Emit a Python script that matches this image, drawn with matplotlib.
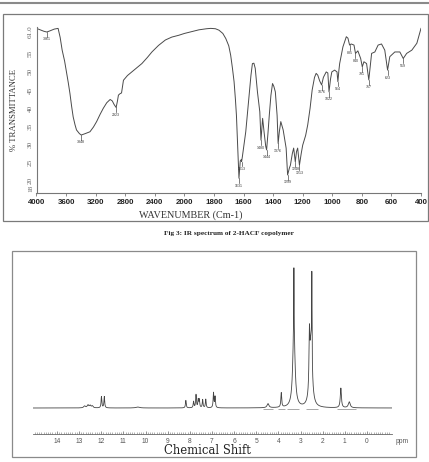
import numpy as np
import matplotlib.pyplot as plt
from matplotlib.lines import Line2D
from matplotlib.patches import Rectangle

# ---------------------------
# IR spectrum
# ---------------------------
ir_wn = [4000, 3950, 3900, 3861, 3820, 3760, 3708, 3680, 3653, 3620, 3595, 3570,
         3548, 3525, 3504, 3480, 3459, 3420, 3395, 3340, 3277, 3230, 3187, 3140,
         3096, 3050, 3004, 2975, 2950, 2923, 2905, 2892, 2870, 2850, 2824, 2770,
         2711, 2640, 2575, 2500, 2439, 2350, 2257, 2170, 2076, 2000, 1970, 1902,
         1850, 1822, 1790, 1766, 1740, 1720, 1700, 1687, 1675, 1664, 1655, 1648,
         1640, 1631, 1622, 1616, 1613, 1608, 1585, 1562, 1550, 1540, 1530, 1521,
         1506, 1490, 1482, 1471, 1460, 1450, 1444, 1435, 1426, 1415, 1404, 1395,
         1385, 1373, 1366, 1358, 1348, 1332, 1312, 1302, 1290, 1283, 1270, 1261,
         1250, 1242, 1234, 1222, 1210, 1200, 1180, 1166, 1150, 1136, 1120, 1109,
         1098, 1085, 1072, 1060, 1041, 1030, 1022, 1012, 1003, 984, 968, 962,
         955, 950, 928, 905, 894, 883, 872, 853, 843, 827, 808, 797,
         786, 768, 753, 734, 712, 690, 667, 645, 626, 611, 577, 543,
         520, 497, 462, 428, 400]
ir_t = [62.0, 61.6, 61.2, 61.0, 61.3, 61.8, 62.0, 59.5, 56.0, 53.0, 50.0, 47.0,
        44.1, 40.5, 37.6, 35.5, 34.0, 33.0, 32.6, 33.0, 33.5, 34.8, 36.3, 38.3,
        40.0, 41.5, 42.4, 42.0, 41.0, 40.2, 42.0, 43.6, 44.0, 44.2, 47.7, 49.0,
        50.0, 51.2, 52.3, 54.0, 55.5, 57.3, 58.8, 59.6, 60.1, 60.6, 60.9, 61.6,
        61.9, 62.0, 61.9, 61.5, 60.6, 59.2, 57.2, 54.6, 51.0, 47.3, 42.5, 38.0,
        30.0, 20.7, 25.5, 25.8, 25.3, 26.6, 33.5, 43.6, 49.0, 52.3, 52.4, 51.0,
        44.5, 39.0, 31.2, 37.2, 33.0, 29.5, 28.5, 33.0, 38.0, 43.5, 46.8, 46.0,
        44.5, 38.0, 30.3, 33.5, 36.3, 34.0, 29.0, 21.6, 23.5, 24.3, 27.5, 29.0,
        25.2, 28.0, 29.0, 24.3, 27.5, 29.8, 32.5, 35.4, 40.0, 45.0, 48.5, 49.6,
        49.1, 47.5, 46.4, 48.5, 50.0, 49.7, 44.5, 48.0, 50.0, 50.5, 50.0, 47.3,
        50.5, 52.3, 56.9, 59.7, 59.3, 57.4, 57.7, 57.4, 55.1, 55.8, 53.7, 51.4,
        52.8, 52.3, 47.8, 55.1, 55.5, 57.4, 57.7, 56.0, 50.5, 54.2, 55.5, 55.5,
        53.7, 55.1, 56.0, 57.9, 62.0]

# labelled dips
dip_wn = [3861, 3395, 2923, 1631, 1613, 1482, 1444, 1366, 1302, 1250, 1222,
          1072, 1022, 962, 883, 843, 797, 753, 626, 520]
dip_t = [61.0, 32.6, 40.2, 20.7, 25.3, 31.2, 28.5, 30.3, 21.6, 25.2, 24.3,
         46.4, 44.5, 47.3, 57.4, 55.1, 51.4, 47.8, 50.5, 53.7]
dip_txt = ['3861', '3348', '2923', '1631', '1613', '1480', '1444', '1376', '1299',
           '1248', '1213', '1076', '1022', '964', '885', '840', '791', '757',
           '623', '519']

ir_xticks = [4000, 3600, 3200, 2800, 2400, 2000, 1800, 1600, 1400, 1200, 1000, 800, 600, 400]
ir_yticks = [18, 20, 25, 30, 35, 40, 45, 50, 55, 61]
ir_ylabels = ['18', '20', '25', '30', '35', '40', '45', '50', '55', '61.0']

# ---------------------------
# 1H NMR peaks: position (ppm), height, half width
# ---------------------------
nmr_ppm = [12.75, 12.6, 12.5, 12.4, 11.99, 11.86, 10.35, 8.18, 7.83, 7.72, 7.62,
           7.57, 7.42, 7.28, 6.93, 6.86, 4.47, 3.87, 3.30, 3.30, 2.60, 2.49,
           2.53, 1.18, 0.80]
nmr_h = [0.012, 0.018, 0.015, 0.012, 0.072, 0.072, 0.006, 0.048, 0.04, 0.083, 0.05,
         0.05, 0.052, 0.055, 0.095, 0.07, 0.026, 0.092, 0.39, 0.5, 0.33, 0.55,
         0.42, 0.125, 0.038]
nmr_w = [0.05, 0.04, 0.04, 0.04, 0.02, 0.02, 0.1, 0.02, 0.02, 0.02, 0.02,
         0.02, 0.02, 0.02, 0.02, 0.02, 0.05, 0.022, 0.008, 0.06, 0.022, 0.01,
         0.065, 0.03, 0.05]
# integration marks under the baseline
int_start = [4.7, 4.0, 3.6, 2.75, 1.35]
int_end = [4.25, 3.7, 3.05, 2.2, 0.5]
nmr_ticks = list(range(14, -1, -1))

W, H = 429, 462


def rect(x0, y0, x1, y1):
    return [x0 / W, 1 - y1 / H, (x1 - x0) / W, (y1 - y0) / H]


fig = plt.figure(figsize=(W / 100, H / 100), dpi=100)

# page rule and frames
fig.add_artist(Line2D([0, 1], [1 - 2.5 / H] * 2, color='#8a8a8a', lw=1.5))
fig.add_artist(Rectangle((3 / W, 1 - 221 / H), 425 / W, 207 / H, fill=False,
                         edgecolor='#7a7a7a', lw=0.9))
fig.add_artist(Rectangle((12 / W, 1 - 457 / H), 404 / W, 206 / H, fill=False,
                         edgecolor='#8a8a8a', lw=0.9))

# ---------------------------
# IR plot
# ---------------------------


def fwd(w):
    w = np.asarray(w, float)
    return np.where(w >= 2000, w / 400.0, w / 200.0 - 5.0)


def inv(v):
    v = np.asarray(v, float)
    return np.where(v >= 5, v * 400.0, (v + 5.0) * 200.0)


ax = fig.add_axes(rect(36.5, 27, 421, 193))
ax.set_xscale('function', functions=(fwd, inv))
ax.plot(ir_wn, ir_t, color='#4a4a4a', lw=0.7)
ax.set_xlim(4000, 400)
ax.set_ylim(16.62, 62.38)

for w, t, s in zip(dip_wn, dip_t, dip_txt):
    ax.plot([w, w], [t, t - 1.3], color='#4a4a4a', lw=0.5)
    ax.text(w, t - 1.5, s, fontsize=2.6, ha='center', va='top', color='#333',
            family='Liberation Sans')

ax.set_xticks(ir_xticks)
ax.set_xticklabels([str(v) for v in ir_xticks], fontsize=5.7, fontweight='bold',
                   family='Liberation Sans', color='#222')
ax.set_yticks(ir_yticks)
ax.set_yticklabels(ir_ylabels, fontsize=5.2, family='Liberation Serif', color='#666',
                   rotation=90, va='center')
ax.minorticks_off()
ax.tick_params(axis='x', length=2, width=0.6, pad=2.5, color='#777')
ax.tick_params(axis='y', length=0, pad=2.5)
for side in ['top', 'right']:
    ax.spines[side].set_visible(False)
for side in ['left', 'bottom']:
    ax.spines[side].set_color('#777')
    ax.spines[side].set_linewidth(0.8)
ax.patch.set_visible(False)

fig.text(191 / W, 1 - 215 / H, 'WAVENUMBER (Cm-1)', fontsize=7.3,
         family='Liberation Serif', color='#333', ha='center', va='center')
fig.text(13.5 / W, 1 - 110 / H, '% TRANSMITTANCE', fontsize=6.3,
         family='Liberation Serif', color='#333', ha='center', va='center',
         rotation=90)
fig.text(228.5 / W, 1 - 234 / H, 'Fig 3: IR spectrum of 2-HACF copolymer',
         fontsize=5.2, family='Liberation Serif', fontweight='bold',
         color='#222', ha='center', va='center')

# ---------------------------
# NMR plot
# ---------------------------
bx = fig.add_axes(rect(33, 251, 392, 434))
ppm = np.linspace(15.08, -1.13, 16000)
spec = np.zeros_like(ppm)
for p, h, g in zip(nmr_ppm, nmr_h, nmr_w):
    spec += h / (1 + ((ppm - p) / g) ** 2)
bx.plot(ppm, spec, color='#444', lw=0.6)
bx.hlines([-0.009] * len(int_start), int_start, int_end, color='#999', lw=0.6)
bx.set_xlim(15.08, -1.13)
bx.set_ylim(-0.1656, 1.0)
bx.set_yticks([])
bx.set_xticks(nmr_ticks)
bx.set_xticklabels([str(v) for v in nmr_ticks], fontsize=4.8,
                   family='Liberation Sans', color='#555')
bx.set_xticks(np.arange(15.0, -1.1, -0.1), minor=True)
bx.tick_params(axis='x', which='major', direction='in', length=2.2, width=0.5,
               pad=2.6, color='#666')
bx.tick_params(axis='x', which='minor', direction='in', length=1.2, width=0.4,
               color='#777')
for side in ['top', 'right', 'left']:
    bx.spines[side].set_visible(False)
bx.spines['bottom'].set_color('#666')
bx.spines['bottom'].set_linewidth(0.6)
bx.patch.set_visible(False)
bx.text(-1.28, -0.1656 - 7 / 157, 'ppm', fontsize=4.8, family='Liberation Sans',
        color='#555', ha='left', va='center', clip_on=False)

fig.text(207 / W, 1 - 451 / H, 'Chemical Shift', fontsize=8.4, family='DejaVu Serif',
         color='#222', ha='center', va='center')

fig.savefig('out.png', dpi=100)
